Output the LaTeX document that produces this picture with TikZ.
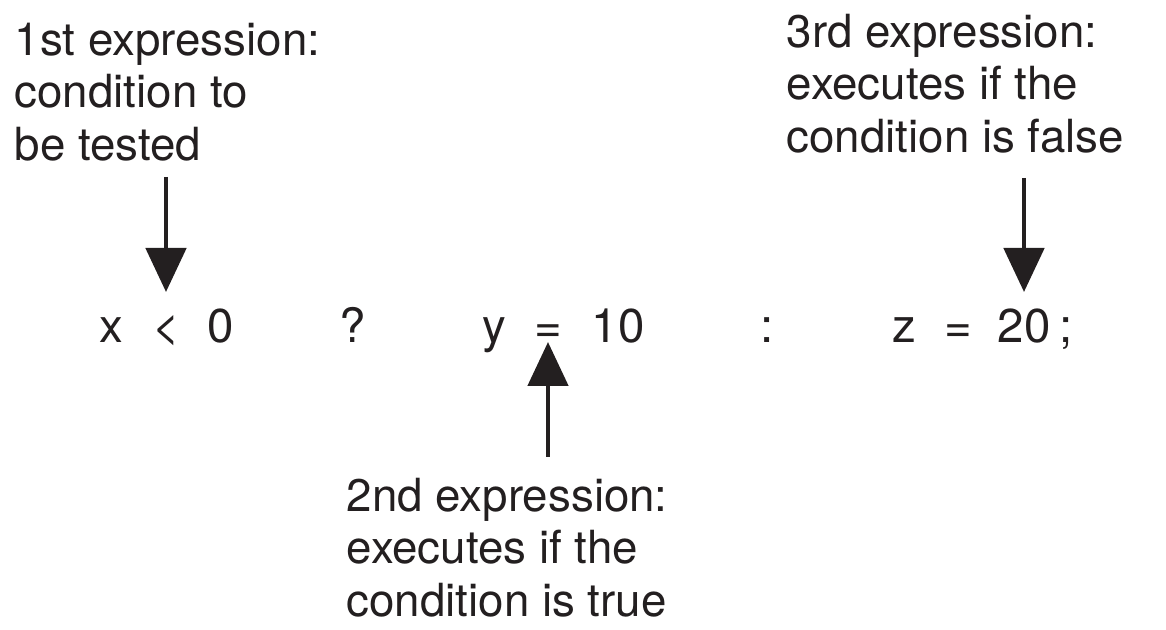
\documentclass[tikz,border=0pt]{standalone}
\usepackage{fontspec}
\setmainfont{TeX Gyre Heros}
\usepackage{tikz}
\usetikzlibrary{arrows.meta}
\definecolor{ink}{HTML}{231F20}
\tikzstyle{note} = [inner sep=0, anchor=north west, align=left, text=ink, font=\fontsize{13}{15}\selectfont]
\tikzstyle{codetok} = [inner sep=0, anchor=base, text=ink, font=\fontsize{13.5}{15}\selectfont]
\tikzstyle{pointer} = [draw=ink, line width=1.4pt, -{Triangle[width=4mm, length=4.4mm]}]

\begin{document}
\begin{tikzpicture}
      \useasboundingbox (0, 0) rectangle (11.66, 6.29);

      \node[note] (first) at (0.14, 6.07) {1st expression:\\condition to\\be tested};
      \node[note] (third) at (7.86, 6.16) {3rd expression:\\executes if the\\condition is false};
      \node[note] (second) at (3.46, 1.52) {2nd expression:\\executes if the\\condition is true};

      \node[codetok] (tx) at (1.11, 2.87) {x};
      \node[codetok] (tlt) at (1.66, 2.87) {<};
      \node[codetok] (tzero) at (2.21, 2.87) {0};
      \node[codetok] (tq) at (3.53, 2.87) {?};
      \node[codetok] (ty) at (4.94, 2.87) {y};
      \node[codetok] (teq) at (5.48, 2.87) {=};
      \node[codetok] (tten) at (6.18, 2.87) {10};
      \node[codetok] (tcolon) at (7.67, 2.87) {:};
      \node[codetok] (tz) at (9.04, 2.87) {z};
      \node[codetok] (teqb) at (9.58, 2.87) {=};
      \node[codetok] (ttwenty) at (10.24, 2.87) {20};
      \node[codetok] (tsemi) at (10.66, 2.87) {;};

      \draw[pointer] ([yshift=-1.5mm]first.south -| tlt.base) -- ([yshift=5mm]tlt.base);
      \draw[pointer] ([yshift=2mm]second.north -| teq.base) -- (teq.base);
      \draw[pointer] ([yshift=-2.4mm]third.south -| ttwenty.base) -- ([yshift=5mm]ttwenty.base);
    \end{tikzpicture}
\end{document}
